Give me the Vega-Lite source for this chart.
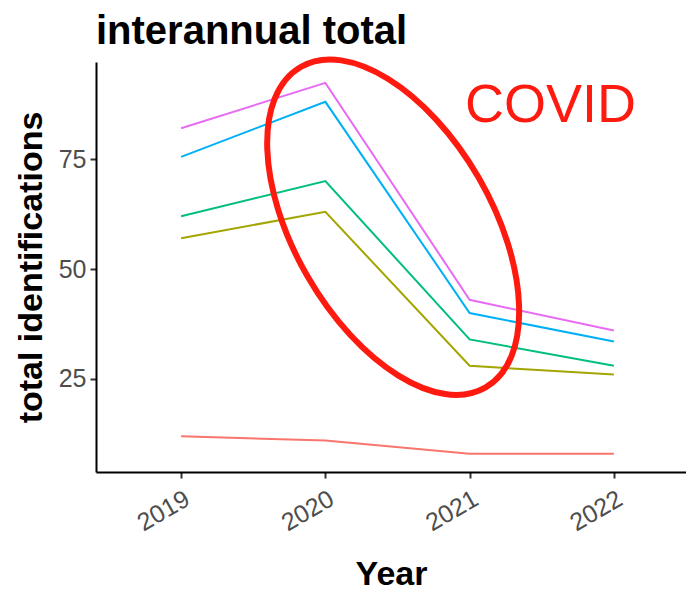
{
  "$schema": "https://vega.github.io/schema/vega-lite/v6.json",
  "autosize": "none",
  "width": 590,
  "height": 410,
  "padding": {"left": 96, "top": 62, "right": 0, "bottom": 119},
  "background": "white",
  "config": {
    "view": {"stroke": null},
    "font": "Liberation Sans"
  },
  "title": {
    "text": "interannual total",
    "anchor": "start",
    "frame": "group",
    "font": "Liberation Sans",
    "fontSize": 40,
    "fontWeight": "bold",
    "color": "#000000",
    "offset": -4
  },
  "datasets": {
    "series": [
      {"year": 2019, "total": 12, "group": "A"},
      {"year": 2020, "total": 11, "group": "A"},
      {"year": 2021, "total": 8, "group": "A"},
      {"year": 2022, "total": 8, "group": "A"},
      {"year": 2019, "total": 57, "group": "B"},
      {"year": 2020, "total": 63, "group": "B"},
      {"year": 2021, "total": 28, "group": "B"},
      {"year": 2022, "total": 26, "group": "B"},
      {"year": 2019, "total": 62, "group": "C"},
      {"year": 2020, "total": 70, "group": "C"},
      {"year": 2021, "total": 34, "group": "C"},
      {"year": 2022, "total": 28, "group": "C"},
      {"year": 2019, "total": 75.5, "group": "D"},
      {"year": 2020, "total": 88, "group": "D"},
      {"year": 2021, "total": 40, "group": "D"},
      {"year": 2022, "total": 33.5, "group": "D"},
      {"year": 2019, "total": 82, "group": "E"},
      {"year": 2020, "total": 92.3, "group": "E"},
      {"year": 2021, "total": 43, "group": "E"},
      {"year": 2022, "total": 36, "group": "E"}
    ],
    "annotation": [
      {"year": 2020.47, "total": 59.5, "label": "COVID", "lx": 2021.56, "ly": 83.4}
    ]
  },
  "layer": [
    {
      "data": {"name": "series"},
      "mark": {"type": "line", "strokeWidth": 2},
      "encoding": {
        "x": {
          "field": "year",
          "type": "quantitative",
          "scale": {"domain": [2018.41, 2022.5], "nice": false, "zero": false},
          "axis": {
            "values": [2019, 2020, 2021, 2022],
            "format": "d",
            "title": "Year",
            "titleFontSize": 34,
            "titleFontWeight": "bold",
            "titleColor": "#000000",
            "titlePadding": 22,
            "labelFontSize": 25,
            "labelColor": "#4d4d4d",
            "labelAngle": -30,
            "labelPadding": 8,
            "domainColor": "#000000",
            "domainWidth": 2,
            "tickColor": "#333333",
            "tickWidth": 2,
            "tickSize": 6,
            "grid": false
          }
        },
        "y": {
          "field": "total",
          "type": "quantitative",
          "scale": {"domain": [3.86, 97.05], "nice": false, "zero": false},
          "axis": {
            "values": [25, 50, 75],
            "title": "total identifications",
            "titleFontSize": 34,
            "titleFontWeight": "bold",
            "titleColor": "#000000",
            "titlePadding": 10,
            "labelFontSize": 25,
            "labelColor": "#4d4d4d",
            "labelPadding": 4,
            "domainColor": "#000000",
            "domainWidth": 2,
            "tickColor": "#333333",
            "tickWidth": 2,
            "tickSize": 6,
            "grid": false
          }
        },
        "color": {
          "field": "group",
          "type": "nominal",
          "scale": {"domain": ["A", "B", "C", "D", "E"], "range": ["#F8766D", "#A3A500", "#00BF7D", "#00B0F6", "#E76BF3"]},
          "legend": null
        }
      }
    },
    {
      "data": {"name": "annotation"},
      "mark": {
        "type": "point",
        "shape": "M 1 0 C 1 0.295 0.552 0.534 0 0.534 C -0.552 0.534 -1 0.295 -1 0 C -1 -0.295 -0.552 -0.534 0 -0.534 C 0.552 -0.534 1 -0.295 1 0 Z",
        "size": 136900,
        "angle": 60,
        "filled": false,
        "stroke": "#ff1a10",
        "strokeWidth": 6,
        "opacity": 1
      },
      "encoding": {
        "x": {"field": "year", "type": "quantitative"},
        "y": {"field": "total", "type": "quantitative"}
      }
    },
    {
      "data": {"name": "annotation"},
      "mark": {
        "type": "text",
        "font": "Liberation Sans",
        "fontSize": 54,
        "color": "#ff1a10",
        "align": "center",
        "baseline": "alphabetic"
      },
      "encoding": {
        "x": {"field": "lx", "type": "quantitative"},
        "y": {"field": "ly", "type": "quantitative"},
        "text": {"field": "label"}
      }
    }
  ]
}
